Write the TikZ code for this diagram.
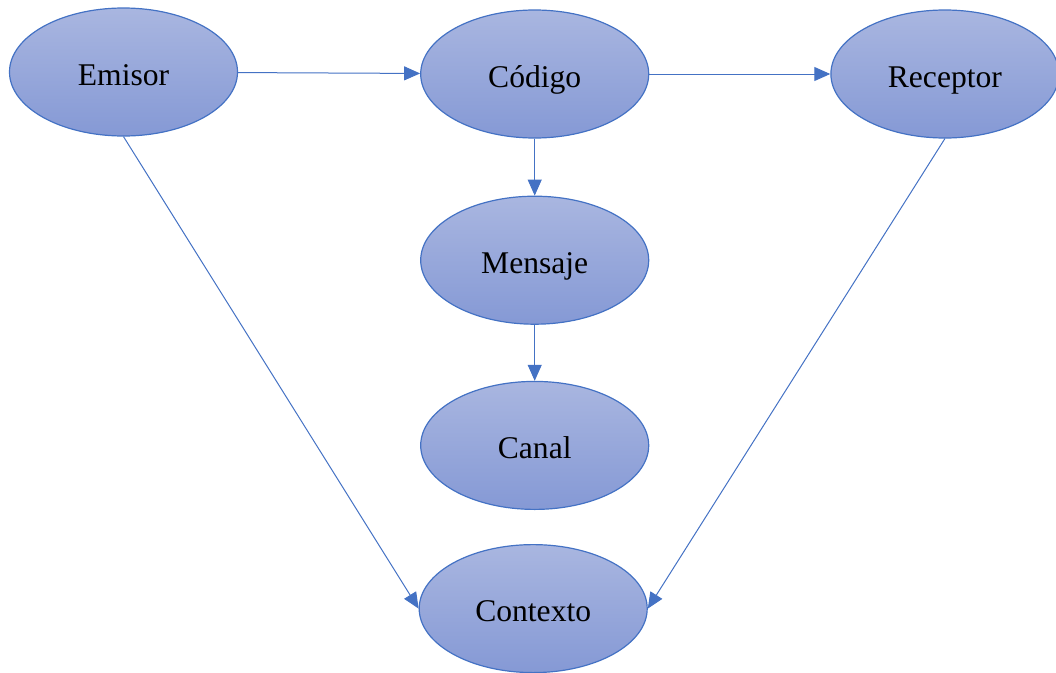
\documentclass[tikz,border=0pt]{standalone}
\usepackage{fontspec}
\setmainfont{Liberation Serif}
\usetikzlibrary{arrows.meta,positioning,shapes.geometric}

\definecolor{ideaTop}{HTML}{A9B6E0}
\definecolor{ideaBottom}{HTML}{8599D5}
\definecolor{ideaLine}{HTML}{4472C4}

\tikzset{idea/.style={ellipse,draw=ideaLine,line width=1.2pt,top color=ideaTop,bottom color=ideaBottom,
        minimum width=228pt,minimum height=128pt,inner sep=0pt,
        text height=26pt,text depth=0pt,
        font=\fontsize{31.6}{36}\selectfont}}

\begin{document}
\begin{tikzpicture}[->,>={Triangle[length=16pt,width=14pt]},line width=1pt,
        every edge/.style={draw=ideaLine},x=1pt,y=1pt]
  \useasboundingbox (0,0) rectangle (1056,-672);

  \node[idea] (Emisor) at (123.5,-72) {Emisor};
  \node[idea] (Codigo) [right=182pt of Emisor,yshift=-2pt] {Código};
  \node[idea] (Receptor) [right=181pt of Codigo] {Receptor};
  \node[idea] (Mensaje) [below=57pt of Codigo] {Mensaje};
  \node[idea] (Canal) [below=56pt of Mensaje] {Canal};
  \node[idea] (Contexto) [below=34pt of Canal,xshift=-1.5pt] {Contexto};

  \path (Emisor) edge (Codigo)
        (Codigo) edge (Receptor)
        (Codigo) edge (Mensaje)
        (Mensaje) edge (Canal)
        (Emisor.south) edge (Contexto.west)
        (Receptor.south) edge (Contexto.east);
\end{tikzpicture}
\end{document}
